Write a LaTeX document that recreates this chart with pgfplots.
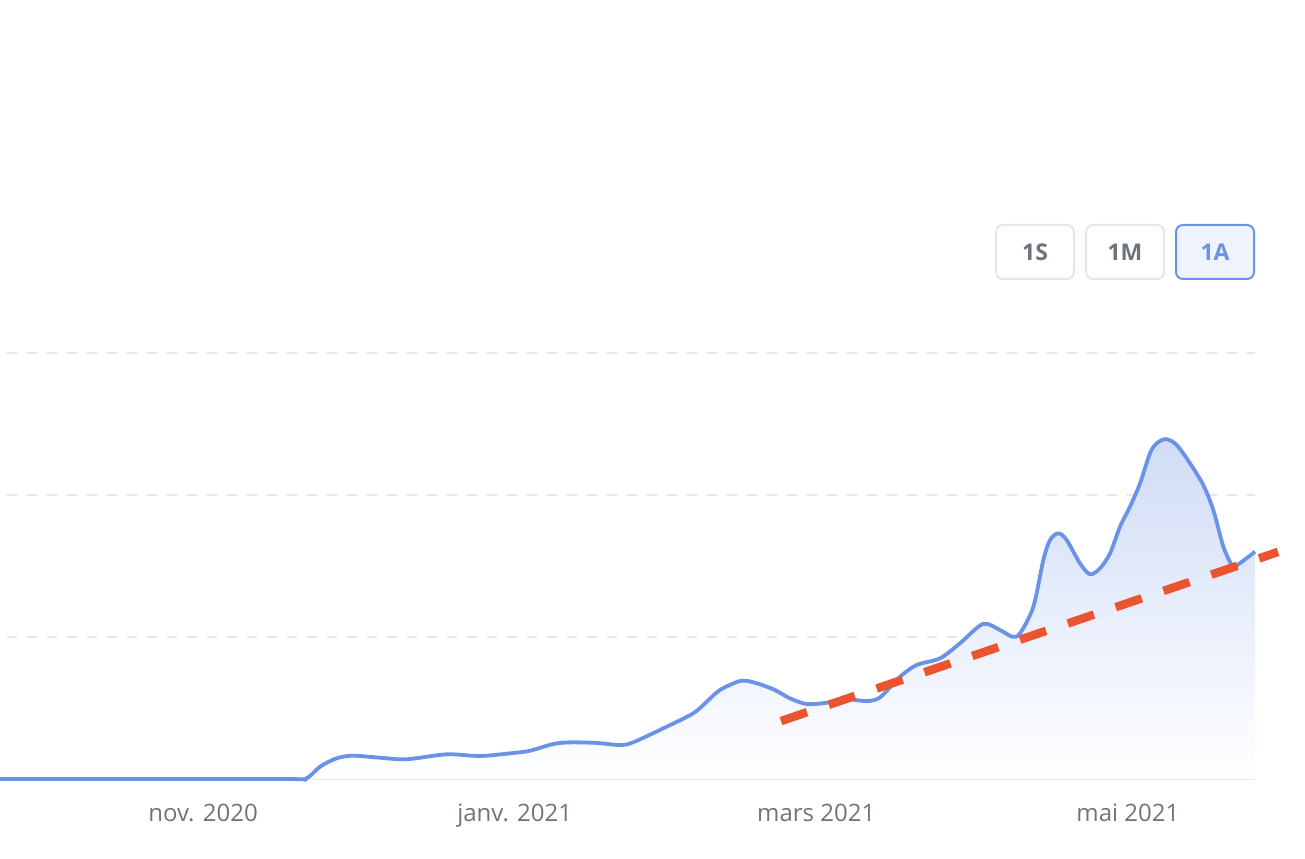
\documentclass[border=0pt]{standalone}
\usepackage{fontspec}
\setmainfont{Open Sans}
\usepackage{pgfplots}
\usepackage{pgfplotstable}
\pgfplotsset{compat=1.18}
\definecolor{linec}{RGB}{106,147,232}
\definecolor{fillc}{RGB}{208,220,246}
\definecolor{trendc}{RGB}{234,84,48}
\definecolor{gridc}{RGB}{229,231,235}
\definecolor{tickc}{RGB}{110,116,126}
\definecolor{btnb}{RGB}{228,230,233}
\definecolor{btnt}{RGB}{108,115,125}
\definecolor{btnfill}{RGB}{238,243,253}
\pgfplotstableread{
x y
-39.73 0
15.07 0
19.96 0
22.90 0.087
26.16 0.146
29.35 0.164
34.64 0.150
39.86 0.139
47.69 0.174
54.21 0.162
60.67 0.183
63.99 0.199
68.49 0.246
71.82 0.258
77.05 0.254
81.60 0.239
84.15 0.258
90.08 0.357
95.95 0.463
98.57 0.544
101.17 0.627
105.09 0.690
107.69 0.681
111.60 0.632
114.87 0.568
118.14 0.528
122.05 0.537
125.97 0.561
129.88 0.549
132.49 0.575
136.40 0.720
139.67 0.803
144.23 0.850
148.14 0.956
152.64 1.092
155.97 1.049
158.41 1.002
159.88 1.026
162.49 1.213
164.44 1.542
165.75 1.683
167.38 1.730
169.02 1.683
171.62 1.519
173.58 1.442
175.54 1.484
177.50 1.589
179.45 1.777
181.41 1.918
183.37 2.082
185.32 2.294
186.63 2.364
188.45 2.394
190.55 2.352
193.15 2.223
195.75 2.070
197.71 1.894
199.67 1.636
201.31 1.507
201.96 1.495
205.87 1.601
}\curve
\pgfplotstableread{
x y
113.11 0.408
210.37 1.599
}\trend
\begin{document}
\begin{tikzpicture}
\useasboundingbox (0pt,0pt) rectangle (652.5pt,429pt);
\begin{axis}[
  at={(0pt,39.5pt)}, anchor=south west,
  scale only axis, width=627.5pt, height=213pt,
  xmin=-39.73, xmax=205.87, ymin=0, ymax=3,
  clip=false,
  axis line style={draw=none},
  major tick length=0pt,
  ytick={1,2,3}, yticklabels={},
  ymajorgrids,
  grid style={color=gridc, line width=1pt, dash pattern=on 5pt off 5pt, dash phase=6.5pt},
  xtick={0,61,120,181},
  xticklabels={nov. 2020, janv. 2021, mars 2021, mai 2021},
  xticklabel style={anchor=base, yshift=-21pt, font=\fontsize{12}{14}\selectfont, text=tickc},
]
% baseline
\addplot[color=gridc, line width=1pt] coordinates {(-39.73,0) (205.87,0)};
% area fill
\addplot[draw=none, top color=fillc, bottom color=white, smooth] table[x=x,y=y] {\curve} \closedcycle;
% line
\addplot[color=linec, line width=1.9pt, smooth, line join=round] table[x=x,y=y] {\curve};
% trend
\addplot[color=trendc, line width=4.25pt, dash pattern=on 13.75pt off 11.5pt] table[x=x,y=y] {\trend};
\end{axis}
% range buttons
\draw[btnb, line width=1pt, rounded corners=3.5pt, fill=white] (498pt,289.5pt) rectangle (537pt,316.5pt);
\node[text=btnt, font=\fontsize{11.5}{13}\selectfont\bfseries] at (517.5pt,303pt) {1S};
\draw[btnb, line width=1pt, rounded corners=3.5pt, fill=white] (543pt,289.5pt) rectangle (582pt,316.5pt);
\node[text=btnt, font=\fontsize{11.5}{13}\selectfont\bfseries] at (562.5pt,303pt) {1M};
\draw[linec, line width=1pt, rounded corners=3.5pt, fill=btnfill] (588pt,289.5pt) rectangle (627pt,316.5pt);
\node[text=linec, font=\fontsize{11.5}{13}\selectfont\bfseries] at (607.5pt,303pt) {1A};
\end{tikzpicture}
\end{document}
